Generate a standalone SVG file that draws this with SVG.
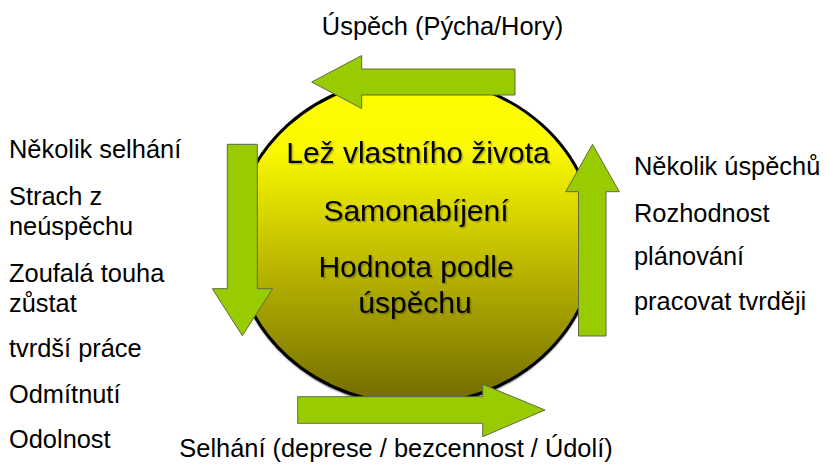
<svg xmlns="http://www.w3.org/2000/svg" width="827" height="467" viewBox="0 0 827 467">
<defs>
<linearGradient id="g" x1="0" y1="0" x2="0" y2="1">
<stop offset="0" stop-color="#ffff00"/>
<stop offset="0.22" stop-color="#fbf900"/>
<stop offset="1" stop-color="#706a00"/>
</linearGradient>
<filter id="ts" x="-10%" y="-30%" width="120%" height="160%">
<feDropShadow dx="1.5" dy="1.5" stdDeviation="0.6" flood-color="#000" flood-opacity="0.25"/>
</filter>
<filter id="bs" x="-10%" y="-10%" width="120%" height="120%">
<feGaussianBlur stdDeviation="0.8"/>
</filter>
</defs>
<style>
.lbl{font-family:"Liberation Sans",Arial,sans-serif;font-size:25.4px;fill:#000}
.inn{font-family:"Liberation Sans",Arial,sans-serif;font-size:30px;fill:#000;text-anchor:middle}
.arr{fill:#99cc00;stroke:#5f6b45;stroke-width:1;stroke-linejoin:miter}
</style>
<g id="cycle">
<ellipse cx="415" cy="243" rx="180.5" ry="163.5" fill="#000" filter="url(#bs)"/>
<ellipse cx="415" cy="241" rx="180.5" ry="163.5" fill="url(#g)" stroke="#000" stroke-width="3"/>
<g filter="url(#ts)">
<text class="inn" x="418" y="163">Lež vlastního života</text>
<text class="inn" x="416" y="221">Samonabíjení</text>
<text class="inn" x="416" y="277">Hodnota podle</text>
<text class="inn" x="415" y="313">úspěchu</text>
</g>
</g>
<g id="connectors">
<polygon class="arr" points="311.7,82 361.7,55.5 361.7,69 515,69 515,95 361.7,95 361.7,108.5"/>
<polygon class="arr" points="592.5,144.3 619.3,191.7 606,191.7 606,336 578.5,336 578.5,191.7 565.7,191.7"/>
<polygon class="arr" points="227.3,144.3 257.3,144.3 257.3,288.7 272.7,288.7 242.3,335.7 212.3,288.7 227.3,288.7"/>
<polygon class="arr" points="297.7,396.7 482.7,396.7 482.7,384.3 545,410 482.7,436.7 482.7,423.3 297.7,423.3"/>
</g>
<g id="top-label"><text class="lbl" x="442.5" y="35" text-anchor="middle">Úspěch (Pýcha/Hory)</text></g>
<g id="bottom-label"><text class="lbl" x="396" y="457" text-anchor="middle">Selhání (deprese / bezcennost / Údolí)</text></g>
<g id="left-labels">
<text class="lbl" x="9" y="158">Několik selhání</text>
<text class="lbl" x="9" y="205">Strach z</text>
<text class="lbl" x="9" y="235">neúspěchu</text>
<text class="lbl" x="9" y="282">Zoufalá touha</text>
<text class="lbl" x="9" y="312">zůstat</text>
<text class="lbl" x="9" y="357">tvrdší práce</text>
<text class="lbl" x="9" y="403">Odmítnutí</text>
<text class="lbl" x="9" y="448">Odolnost</text>
</g>
<g id="right-labels">
<text class="lbl" x="634" y="175">Několik úspěchů</text>
<text class="lbl" x="634" y="222">Rozhodnost</text>
<text class="lbl" x="634" y="265">plánování</text>
<text class="lbl" x="634" y="310">pracovat tvrději</text>
</g>
</svg>
